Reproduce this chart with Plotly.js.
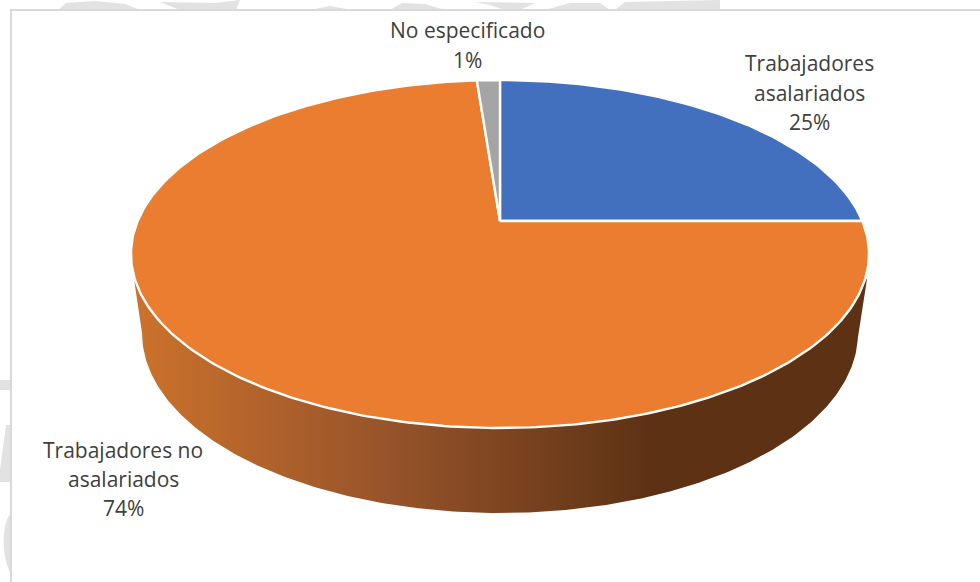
<!DOCTYPE html>
<html>
<head>
<meta charset="utf-8">
<script src="https://cdn.plot.ly/plotly-3.0.1.min.js"></script>
<style>html,body{margin:0;padding:0;background:#fff;overflow:hidden}</style>
</head>
<body>
<div id="chart" style="width:980px;height:582px"></div>
<script>
const categories = ["Trabajadores asalariados", "Trabajadores no asalariados", "No especificado"];
const values = [25, 74, 1];
const labelLines = [["Trabajadores", "asalariados", "25%"], ["Trabajadores no", "asalariados", "74%"], ["No especificado", "1%"]];
const colors = ["#4270BF", "#EB7D30", "#A5A5A5"];

// Perspective geometry of the tilted disc, in axis units (axes map 1:1 to pixels)
const top_ = {cx: 500, cy: 254, rx: 369, ry: 174, apexX: 500, apexY: 221, dirX: 369, dirY: 141};
const low = {cx: 500, cy: 333, rx: 358, ry: 180};

const total = values.reduce((a, b) => a + b, 0);

function rimPhi(frac) {
  const th = frac * 2 * Math.PI;
  const dx = top_.dirX * Math.sin(th), dy = -top_.dirY * Math.cos(th);
  const ox = (top_.apexX - top_.cx) / top_.rx, oy = (top_.apexY - top_.cy) / top_.ry;
  const ux = dx / top_.rx, uy = dy / top_.ry;
  const a = ux * ux + uy * uy, b = 2 * (ox * ux + oy * uy), c = ox * ox + oy * oy - 1;
  const t = (-b + Math.sqrt(b * b - 4 * a * c)) / (2 * a);
  return Math.atan2(oy + t * uy, ox + t * ux);
}

function slice(f0, f1) {
  let p0 = rimPhi(f0), p1 = rimPhi(f1);
  while (p1 <= p0) p1 += 2 * Math.PI;
  const xs = [top_.apexX], ys = [top_.apexY];
  const n = Math.max(4, Math.ceil((p1 - p0) * 60));
  for (let i = 0; i <= n; i++) {
    const p = p0 + (p1 - p0) * i / n;
    xs.push(top_.cx + top_.rx * Math.cos(p));
    ys.push(top_.cy + top_.ry * Math.sin(p));
  }
  xs.push(top_.apexX); ys.push(top_.apexY);
  return {xs, ys};
}

// Side wall: lower rim plus the two straight edges that rise behind the disc
const wx = [], wy = [];
wx.push(867); wy.push(279);
for (let i = 0; i <= 240; i++) {
  const p = Math.PI * i / 240;
  wx.push(low.cx + low.rx * Math.cos(p));
  wy.push(low.cy + low.ry * Math.sin(p));
}
wx.push(134); wy.push(279);
wx.push(500); wy.push(300);
wx.push(867); wy.push(279);

const traces = [{
  type: "scatter", mode: "lines", x: wx, y: wy, fill: "toself", hoverinfo: "skip", showlegend: false,
  line: {width: 0, color: "rgba(0,0,0,0)"},
  fillcolor: "#8a4a1f",
  fillgradient: {type: "horizontal", start: 134, stop: 650,
    colorscale: [[0, "#CC722C"], [0.5, "#96532A"], [1, "#5D3214"]]}
}];

let acc = 0;
values.forEach((v, i) => {
  const s = slice(acc / total, (acc + v) / total);
  acc += v;
  traces.push({
    type: "scatter", mode: "lines", x: s.xs, y: s.ys, fill: "toself", fillcolor: colors[i],
    line: {color: "#ffffff", width: 2.4}, name: categories[i], showlegend: false,
    hoveron: "fills", text: categories[i] + " " + v + "%", hoverinfo: "text"
  });
});

const labelAnchors = [
  {x: 809, y: [63, 93, 122]},
  {x: 123, y: [450, 479, 508]},
  {x: 467, y: [30, 60]}
];
const annotations = [];
labelLines.forEach((lines, i) => {
  lines.forEach((t, j) => annotations.push({
    x: labelAnchors[i].x, y: labelAnchors[i].y[j], xref: "x", yref: "y",
    text: t, showarrow: false, xanchor: "center", yanchor: "middle",
    font: {family: "Open Sans, sans-serif", size: 21, color: "#404040"}
  }));
});

const wm = "#e2e2e2";
const blob = d => ({type: "path", path: d, xref: "x", yref: "y", fillcolor: wm, line: {width: 0}, layer: "below"});
const shapes = [
  blob("M58,10 L66,3 L95,1 L125,4 L140,10 Z"),
  blob("M160,2 L215,3 L240,0 L236,10 L180,10 Z"),
  blob("M310,10 L330,6 L352,10 Z"),
  blob("M390,10 L402,3 L425,4 L445,10 Z"),
  blob("M475,2 L490,5 L505,10 L520,10 L535,3 Z"),
  blob("M545,10 L570,3 L600,3 L610,10 Z"),
  blob("M615,10 L625,2 L720,0 L720,10 Z"),
  blob("M0,380 L10,380 L10,390 L0,390 Z"),
  blob("M0,470 L6,425 L10,425 L10,482 L0,482 Z"),
  blob("M10,514 C2,525 1,555 10,572 Z"),
  {type: "line", xref: "x", yref: "y", x0: 11, x1: 11, y0: 9, y1: 582, line: {color: "#d9d9d9", width: 2}},
  {type: "line", xref: "x", yref: "y", x0: 10, x1: 980, y0: 10, y1: 10, line: {color: "#d9d9d9", width: 2}}
];

const layout = {
  width: 980, height: 582, margin: {l: 0, r: 0, t: 0, b: 0},
  paper_bgcolor: "#ffffff", plot_bgcolor: "#ffffff", showlegend: false,
  xaxis: {range: [0, 980], visible: false, fixedrange: true},
  yaxis: {range: [582, 0], visible: false, fixedrange: true},
  annotations, shapes
};
Plotly.newPlot("chart", traces, layout, {displayModeBar: false, staticPlot: false});
</script>
</body>
</html>
